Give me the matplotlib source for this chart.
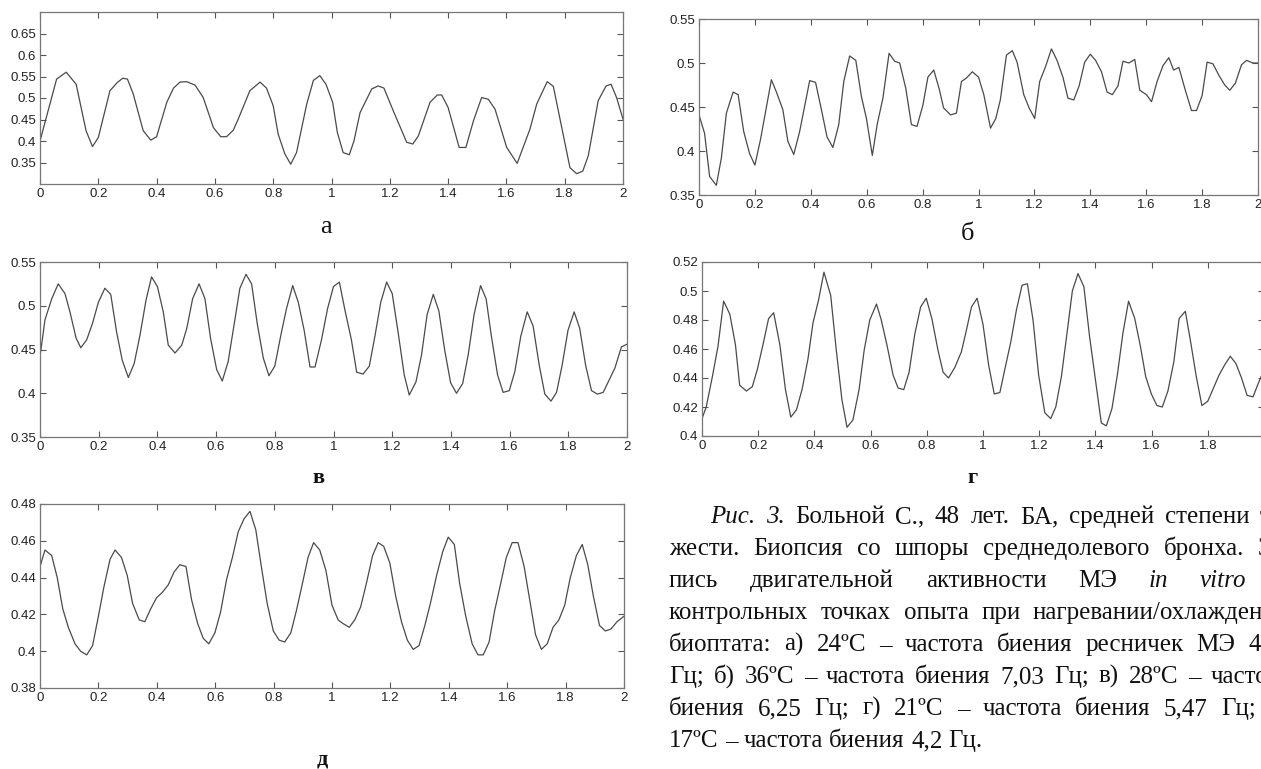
import matplotlib
matplotlib.use('Agg')
import matplotlib.pyplot as plt
import numpy as np

# ---- panel а ----
a_t = [0.0, 0.057, 0.09, 0.124, 0.158, 0.18, 0.2, 0.24, 0.265, 0.284, 0.30, 0.32, 0.354, 0.38, 0.40,
       0.435, 0.458, 0.48, 0.503, 0.532, 0.56, 0.595, 0.62, 0.64, 0.663, 0.68, 0.72, 0.755, 0.777,
       0.80, 0.817, 0.84, 0.86, 0.88, 0.915, 0.938, 0.96, 0.981, 1.004, 1.02, 1.04, 1.061, 1.077,
       1.098, 1.138, 1.16, 1.18, 1.212, 1.258, 1.279, 1.298, 1.338, 1.363, 1.378, 1.40, 1.438,
       1.461, 1.487, 1.515, 1.538, 1.561, 1.601, 1.637, 1.681, 1.704, 1.74, 1.761, 1.818, 1.841,
       1.862, 1.881, 1.915, 1.942, 1.959, 1.978, 2.0]
a_y = [0.40, 0.544, 0.56, 0.532, 0.424, 0.387, 0.408, 0.517, 0.536, 0.546, 0.544, 0.509, 0.424, 0.402,
       0.41, 0.49, 0.523, 0.537, 0.538, 0.53, 0.501, 0.431, 0.41, 0.41, 0.425, 0.451, 0.517, 0.537,
       0.523, 0.482, 0.416, 0.37, 0.346, 0.373, 0.486, 0.541, 0.552, 0.532, 0.49, 0.42, 0.373, 0.368,
       0.40, 0.466, 0.521, 0.528, 0.523, 0.47, 0.397, 0.393, 0.412, 0.49, 0.507, 0.507, 0.478, 0.385,
       0.385, 0.447, 0.501, 0.497, 0.474, 0.385, 0.348, 0.428, 0.486, 0.538, 0.527, 0.338, 0.324,
       0.33, 0.366, 0.494, 0.528, 0.532, 0.501, 0.451]

# ---- panel б ----
b_t = [0.0, 0.02, 0.038, 0.062, 0.08, 0.098, 0.122, 0.14, 0.16, 0.181, 0.2, 0.22, 0.259, 0.277, 0.30,
       0.318, 0.339, 0.36, 0.396, 0.417, 0.438, 0.458, 0.479, 0.50, 0.518, 0.539, 0.561, 0.581, 0.599,
       0.62, 0.638, 0.658, 0.68, 0.70, 0.718, 0.74, 0.76, 0.78, 0.801, 0.819, 0.84, 0.859, 0.875, 0.90,
       0.921, 0.939, 0.957, 0.978, 1.0, 1.019, 1.043, 1.062, 1.078, 1.10, 1.121, 1.138, 1.162, 1.181,
       1.201, 1.219, 1.24, 1.261, 1.281, 1.302, 1.32, 1.341, 1.36, 1.38, 1.40, 1.419, 1.44, 1.46,
       1.479, 1.499, 1.517, 1.538, 1.559, 1.577, 1.601, 1.619, 1.639, 1.66, 1.681, 1.698, 1.717, 1.74,
       1.762, 1.78, 1.80, 1.818, 1.839, 1.86, 1.881, 1.899, 1.919, 1.941, 1.959, 1.982, 2.0]
b_y = [0.441, 0.42, 0.371, 0.361, 0.392, 0.443, 0.467, 0.464, 0.422, 0.397, 0.384, 0.413, 0.481, 0.467,
       0.447, 0.411, 0.396, 0.422, 0.48, 0.478, 0.447, 0.416, 0.404, 0.43, 0.479, 0.508, 0.503, 0.462,
       0.437, 0.395, 0.431, 0.46, 0.511, 0.502, 0.50, 0.471, 0.43, 0.428, 0.452, 0.484, 0.492, 0.471,
       0.449, 0.441, 0.443, 0.479, 0.483, 0.49, 0.484, 0.464, 0.426, 0.437, 0.458, 0.509, 0.514, 0.501,
       0.464, 0.449, 0.437, 0.479, 0.496, 0.516, 0.503, 0.484, 0.46, 0.458, 0.474, 0.501, 0.51, 0.503,
       0.49, 0.467, 0.464, 0.474, 0.502, 0.50, 0.504, 0.469, 0.464, 0.456, 0.479, 0.497, 0.506, 0.492,
       0.495, 0.469, 0.446, 0.446, 0.463, 0.501, 0.499, 0.486, 0.475, 0.469, 0.477, 0.498, 0.503, 0.50,
       0.50]

# ---- panel в ----
v_t = [0.0, 0.017, 0.04, 0.062, 0.085, 0.102, 0.123, 0.139, 0.159, 0.179, 0.199, 0.221, 0.241, 0.261,
       0.28, 0.301, 0.321, 0.341, 0.361, 0.38, 0.40, 0.42, 0.437, 0.46, 0.483, 0.50, 0.52, 0.542, 0.562,
       0.581, 0.602, 0.621, 0.641, 0.664, 0.681, 0.702, 0.721, 0.74, 0.761, 0.78, 0.80, 0.821, 0.84,
       0.861, 0.88, 0.90, 0.92, 0.937, 0.959, 0.98, 1.0, 1.02, 1.039, 1.061, 1.079, 1.101, 1.122, 1.141,
       1.161, 1.181, 1.2, 1.22, 1.241, 1.258, 1.281, 1.3, 1.319, 1.34, 1.359, 1.379, 1.399, 1.419, 1.44,
       1.459, 1.479, 1.501, 1.52, 1.538, 1.559, 1.578, 1.599, 1.618, 1.638, 1.66, 1.68, 1.701, 1.72,
       1.741, 1.76, 1.779, 1.799, 1.82, 1.839, 1.859, 1.879, 1.899, 1.919, 1.939, 1.959, 1.981, 2.0]
v_y = [0.442, 0.484, 0.508, 0.525, 0.514, 0.493, 0.463, 0.452, 0.461, 0.48, 0.504, 0.52, 0.513, 0.47,
       0.438, 0.418, 0.434, 0.467, 0.506, 0.533, 0.522, 0.493, 0.455, 0.446, 0.455, 0.474, 0.508, 0.525,
       0.508, 0.463, 0.427, 0.414, 0.436, 0.484, 0.52, 0.536, 0.525, 0.48, 0.44, 0.42, 0.431, 0.467,
       0.497, 0.523, 0.504, 0.472, 0.43, 0.43, 0.461, 0.497, 0.522, 0.527, 0.495, 0.461, 0.424, 0.422,
       0.431, 0.465, 0.504, 0.527, 0.514, 0.47, 0.421, 0.398, 0.413, 0.444, 0.49, 0.513, 0.494, 0.449,
       0.412, 0.40, 0.411, 0.444, 0.49, 0.523, 0.508, 0.465, 0.421, 0.401, 0.403, 0.425, 0.465, 0.493,
       0.477, 0.432, 0.399, 0.391, 0.401, 0.432, 0.472, 0.493, 0.474, 0.432, 0.403, 0.399, 0.401, 0.415,
       0.429, 0.453, 0.456]

# ---- panel г ----
g_t = [0.0, 0.015, 0.037, 0.057, 0.077, 0.099, 0.119, 0.134, 0.158, 0.179, 0.197, 0.217, 0.237, 0.255,
       0.277, 0.297, 0.316, 0.336, 0.356, 0.377, 0.395, 0.415, 0.434, 0.458, 0.478, 0.498, 0.516, 0.537,
       0.559, 0.577, 0.597, 0.621, 0.638, 0.659, 0.68, 0.698, 0.718, 0.737, 0.757, 0.778, 0.798, 0.818,
       0.84, 0.858, 0.877, 0.899, 0.923, 0.941, 0.959, 0.979, 1.0, 1.02, 1.04, 1.06, 1.08, 1.099, 1.119,
       1.139, 1.158, 1.178, 1.198, 1.22, 1.241, 1.259, 1.279, 1.299, 1.318, 1.338, 1.359, 1.379, 1.4,
       1.421, 1.439, 1.459, 1.478, 1.498, 1.518, 1.54, 1.56, 1.579, 1.599, 1.619, 1.638, 1.658, 1.679,
       1.698, 1.72, 1.738, 1.759, 1.779, 1.8, 1.82, 1.84, 1.86, 1.88, 1.9, 1.92, 1.94, 1.961, 1.979, 1.99]
g_y = [0.412, 0.42, 0.441, 0.462, 0.493, 0.484, 0.463, 0.435, 0.431, 0.434, 0.446, 0.463, 0.481, 0.485,
       0.463, 0.432, 0.413, 0.418, 0.432, 0.453, 0.478, 0.494, 0.513, 0.497, 0.459, 0.425, 0.406, 0.411,
       0.432, 0.459, 0.48, 0.491, 0.48, 0.462, 0.442, 0.433, 0.432, 0.444, 0.47, 0.489, 0.495, 0.481,
       0.459, 0.444, 0.44, 0.447, 0.458, 0.473, 0.489, 0.495, 0.477, 0.449, 0.429, 0.43, 0.448, 0.465,
       0.487, 0.504, 0.505, 0.48, 0.442, 0.416, 0.412, 0.42, 0.441, 0.471, 0.50, 0.512, 0.503, 0.469,
       0.439, 0.409, 0.407, 0.419, 0.442, 0.471, 0.493, 0.481, 0.462, 0.441, 0.429, 0.421, 0.42, 0.431,
       0.451, 0.481, 0.486, 0.466, 0.441, 0.421, 0.424, 0.433, 0.442, 0.449, 0.455, 0.45, 0.44, 0.428,
       0.427, 0.436, 0.441]

# ---- panel д ----
d_t = [0.0, 0.017, 0.04, 0.059, 0.078, 0.097, 0.12, 0.139, 0.16, 0.18, 0.2, 0.219, 0.24, 0.257, 0.279,
       0.299, 0.317, 0.34, 0.359, 0.379, 0.399, 0.419, 0.439, 0.459, 0.479, 0.5, 0.519, 0.54, 0.559,
       0.578, 0.599, 0.618, 0.639, 0.659, 0.679, 0.699, 0.719, 0.739, 0.759, 0.778, 0.799, 0.819, 0.838,
       0.859, 0.878, 0.899, 0.918, 0.937, 0.958, 0.979, 1.0, 1.021, 1.038, 1.059, 1.078, 1.098, 1.118,
       1.139, 1.158, 1.177, 1.198, 1.218, 1.238, 1.258, 1.278, 1.298, 1.318, 1.337, 1.358, 1.379, 1.398,
       1.419, 1.437, 1.458, 1.48, 1.5, 1.518, 1.538, 1.557, 1.578, 1.597, 1.617, 1.637, 1.658, 1.677,
       1.697, 1.717, 1.737, 1.757, 1.777, 1.797, 1.816, 1.837, 1.857, 1.876, 1.895, 1.916, 1.936, 1.955,
       1.976, 2.0]
d_y = [0.446, 0.455, 0.452, 0.44, 0.423, 0.413, 0.404, 0.40, 0.398, 0.403, 0.419, 0.435, 0.45, 0.455,
       0.451, 0.441, 0.426, 0.417, 0.416, 0.423, 0.429, 0.432, 0.436, 0.443, 0.447, 0.446, 0.428, 0.415,
       0.407, 0.404, 0.41, 0.421, 0.439, 0.451, 0.465, 0.472, 0.476, 0.466, 0.445, 0.426, 0.411, 0.406,
       0.405, 0.41, 0.422, 0.437, 0.451, 0.459, 0.455, 0.444, 0.425, 0.417, 0.415, 0.413, 0.417, 0.424,
       0.437, 0.452, 0.459, 0.457, 0.448, 0.43, 0.416, 0.406, 0.401, 0.403, 0.414, 0.426, 0.441, 0.454,
       0.462, 0.458, 0.437, 0.419, 0.404, 0.398, 0.398, 0.405, 0.422, 0.437, 0.451, 0.459, 0.459, 0.446,
       0.428, 0.409, 0.401, 0.404, 0.413, 0.417, 0.425, 0.44, 0.452, 0.458, 0.447, 0.43, 0.414, 0.411,
       0.412, 0.416, 0.419]

x_ticks = np.arange(0, 2.01, 0.2)

# caption lines: lists of (word, style); the last line is not justified
caption = [
    [('Рис.', 'italic'), ('3.', 'italic'), ('Больной', 'normal'), ('С.,', 'normal'), ('48', 'normal'),
     ('лет.', 'normal'), ('БА,', 'normal'), ('средней', 'normal'), ('степени', 'normal'), ('тя-', 'normal')],
    [(w, 'normal') for w in 'жести. Биопсия со шпоры среднедолевого бронха. За-'.split()],
    [('пись', 'normal'), ('двигательной', 'normal'), ('активности', 'normal'), ('МЭ', 'normal'),
     ('in', 'italic'), ('vitro', 'italic'), ('в', 'normal')],
    [(w, 'normal') for w in 'контрольных точках опыта при нагревании/охлаждении'.split()],
    [(w, 'normal') for w in 'биоптата: а) 24ºС – частота биения ресничек МЭ 4'.split()],
    [(w, 'normal') for w in 'Гц; б) 36ºС – частота биения 7,03 Гц; в) 28ºС – частота'.split()],
    [(w, 'normal') for w in 'биения 6,25 Гц; г) 21ºС – частота биения 5,47 Гц; д)'.split()],
    [(w, 'normal') for w in '17ºС – частота биения 4,2 Гц.'.split()],
]
# right edge of each justified line (column runs past the picture edge)
line_right = [1290, 1290, 1290, 1290, 1261, 1290, 1290]

# data, ylim, yticks, axes box in pixels (left, top, right, bottom), letter, letter pos, bold, size
panels = [
    (a_t, a_y, (0.3, 0.7), np.arange(0.35, 0.651, 0.05), (40, 12, 623, 184), 'а', (326, 227), False, 19),
    (b_t, b_y, (0.35, 0.55), np.arange(0.35, 0.551, 0.05), (699, 19, 1258, 195), 'б', (967, 234), False, 19),
    (v_t, v_y, (0.35, 0.55), np.arange(0.35, 0.551, 0.05), (40, 262, 627, 437), 'в', (318, 478), True, 16),
    (g_t, g_y, (0.4, 0.52), np.arange(0.40, 0.521, 0.02), (702, 262, 1264, 436), 'г', (972, 478), True, 16),
    (d_t, d_y, (0.38, 0.48), np.arange(0.38, 0.481, 0.02), (40, 504, 624, 688), 'д', (322, 760), True, 16),
]

W, H = 1261, 769
fig = plt.figure(figsize=(W / 100, H / 100), dpi=100)
fig.patch.set_facecolor('white')

for t, y, ylim, yt, box, letter, lpos, bold, lsize in panels:
    l, top, r, b = box
    ax = fig.add_axes([l / W, 1 - b / H, (r - l) / W, (b - top) / H])
    ax.plot(t, y, color='#4a4a4a', linewidth=0.9)
    ax.set_xlim(0, 2)
    ax.set_ylim(*ylim)
    ax.set_xticks(x_ticks)
    ax.set_xticklabels(['%g' % round(v, 2) for v in x_ticks])
    ax.set_yticks(yt)
    ax.set_yticklabels(['%g' % round(v, 2) for v in yt])
    ax.tick_params(direction='in', top=True, right=True, length=4, width=0.8,
                   color='#555555', labelsize=9.5, labelcolor='#222222', pad=3)
    for lab in ax.get_xticklabels() + ax.get_yticklabels():
        lab.set_family('Liberation Sans')
    for s in ax.spines.values():
        s.set_color('#777777')
        s.set_linewidth(0.9)
    fig.text(lpos[0] / W, 1 - lpos[1] / H, letter, family='Liberation Serif',
             fontsize=lsize, fontweight='bold' if bold else 'normal',
             ha='center', va='center', color='#111111')

# caption, justified word by word
fsize = 18
cap_font = dict(family='Liberation Serif', fontsize=fsize, color='#111111', va='baseline')
left, indent = 669, 710
base0, line_gap = 523, 32
space = 0.25 * fsize * 100 / 72
renderer = fig.canvas.get_renderer()
for i, words in enumerate(caption):
    yb = 1 - (base0 + i * line_gap) / H
    objs = [fig.text(0, yb, w, style=st, **cap_font) for w, st in words]
    widths = [o.get_window_extent(renderer).width for o in objs]
    x0 = indent if i == 0 else left
    if i < len(caption) - 1:
        gap = max(space, (line_right[i] - x0 - sum(widths)) / (len(words) - 1))
    else:
        gap = space
    x = x0
    for o, w in zip(objs, widths):
        o.set_x(x / W)
        x += w + gap

plt.savefig('out.png', dpi=100)
